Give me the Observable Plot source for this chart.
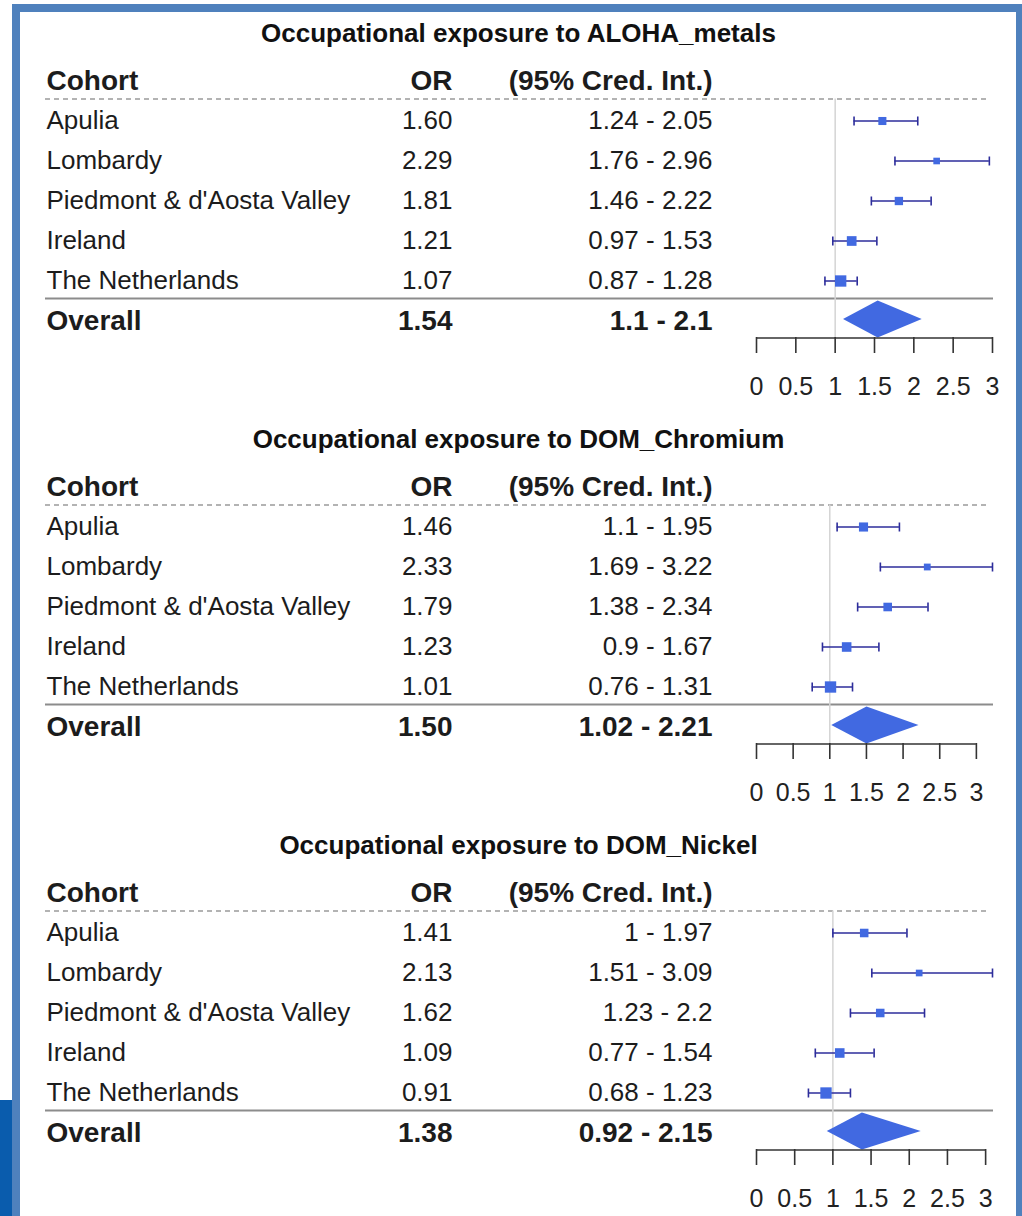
<!DOCTYPE html>
<html><head><meta charset="utf-8">
<script src="https://cdn.jsdelivr.net/npm/d3@7"></script>
<script src="https://cdn.jsdelivr.net/npm/@observablehq/plot@0.6"></script>
<style>
html,body{margin:0;padding:0;background:#fff;width:1022px;height:1216px;overflow:hidden;font-family:"Liberation Sans",Arial,sans-serif}
.panel{position:absolute;left:0;width:1022px;height:406px}
.bd{position:absolute;background:#4f81bd;z-index:5}
</style></head><body>
<div id="panels"></div>
<div class="bd" style="left:12px;top:4px;width:1010px;height:8px"></div>
<div class="bd" style="left:12px;top:4px;width:8px;height:1212px"></div>
<div class="bd" style="left:1016px;top:4px;width:6px;height:1212px"></div>
<div style="position:absolute;left:0;top:1100px;width:12px;height:116px;background:#0a5cad;z-index:5"></div>
<script>
// ---- data ----
const cohorts = ["Apulia", "Lombardy", "Piedmont & d'Aosta Valley", "Ireland", "The Netherlands"];
const titles = ["Occupational exposure to ALOHA_metals", "Occupational exposure to DOM_Chromium", "Occupational exposure to DOM_Nickel"];
const headerLabels = ["Cohort", "OR", "(95% Cred. Int.)"];
const overallLabel = "Overall";
const tickValues = [0, 0.5, 1, 1.5, 2, 2.5, 3];

const orMetals = [1.60, 2.29, 1.81, 1.21, 1.07];
const loMetals = [1.24, 1.76, 1.46, 0.97, 0.87];
const hiMetals = [2.05, 2.96, 2.22, 1.53, 1.28];
const overallMetals = [1.54, 1.1, 2.1];

const orChromium = [1.46, 2.33, 1.79, 1.23, 1.01];
const loChromium = [1.1, 1.69, 1.38, 0.9, 0.76];
const hiChromium = [1.95, 3.22, 2.34, 1.67, 1.31];
const overallChromium = [1.50, 1.02, 2.21];

const orNickel = [1.41, 2.13, 1.62, 1.09, 0.91];
const loNickel = [1, 1.51, 1.23, 0.77, 0.68];
const hiNickel = [1.97, 3.09, 2.2, 1.54, 1.23];
const overallNickel = [1.38, 0.92, 2.15];

const panelsData = [
  [titles[0], orMetals, loMetals, hiMetals, overallMetals],
  [titles[1], orChromium, loChromium, hiChromium, overallChromium],
  [titles[2], orNickel, loNickel, hiNickel, overallNickel]
];

// ---- drawing ----
const vbar = {draw(ctx, size) { const h = Math.sqrt(size / Math.PI); ctx.moveTo(0, -h); ctx.lineTo(0, h); }};
const barColor = "#2d2d9b";
const boxColor = "royalblue";
const textColor = "#1c1c1c";

function panel(title, or, lo, hi, ov) {
  const rows = cohorts.map((c, k) => ({cohort: c, i: k + 1, or: or[k], lo: lo[k], hi: hi[k], w: 1 / (hi[k] - lo[k])}));
  const ovRow = {i: rows.length + 1, or: ov[0], lo: ov[1], hi: ov[2]};
  const header = [{i: 0}];
  const xmax = Math.max(d3.max(tickValues), d3.max(hi));
  const diamond = [
    {x: ovRow.lo, y: ovRow.i - 0.05},
    {x: ovRow.or, y: ovRow.i - 0.51},
    {x: ovRow.hi, y: ovRow.i - 0.05},
    {x: ovRow.or, y: ovRow.i + 0.41}
  ];
  const col = (data, text, dx, anchor, bold) => Plot.text(data, {
    y: "i", text, frameAnchor: "left", dx, textAnchor: anchor, lineAnchor: "middle",
    fontSize: bold ? 28 : 26, fontWeight: bold ? "bold" : "normal", fill: textColor
  });
  return Plot.plot({
    width: 1022, height: 406,
    marginLeft: 0, marginRight: 0, marginTop: 0, marginBottom: 69,
    style: {background: "transparent", fontFamily: "'Liberation Sans', Arial, sans-serif", overflow: "visible"},
    x: {domain: [0, xmax], range: [756, 992]},
    y: {domain: [0, ovRow.i], range: [80.5, 320.5], axis: null},
    r: {range: [0, 6.4]},
    marks: [
      Plot.text([title], {text: d => d, frameAnchor: "top", dx: 7, dy: 33, lineAnchor: "middle", fontSize: 26, fontWeight: "bold", fill: "#111"}),
      col(header, () => headerLabels[0], 46, "start", true),
      col(header, () => headerLabels[1], 452, "end", true),
      col(header, () => headerLabels[2], 712, "end", true),
      col(rows, "cohort", 46, "start", false),
      col(rows, d => d.or.toFixed(2), 452, "end", false),
      col(rows, d => `${d.lo} - ${d.hi}`, 712, "end", false),
      col([ovRow], () => overallLabel, 46, "start", true),
      col([ovRow], d => d.or.toFixed(2), 452, "end", true),
      col([ovRow], d => `${d.lo} - ${d.hi}`, 712, "end", true),
      Plot.ruleY(header, {y: "i", dy: 18, insetLeft: 45, insetRight: 34, stroke: "#9a9a9a", strokeWidth: 1.4, strokeDasharray: "5,4"}),
      Plot.ruleY([ovRow], {y: "i", dy: -22.5, insetLeft: 45, insetRight: 29, stroke: "#8c8c8c", strokeWidth: 2}),
      Plot.ruleX([1], {x: d => d, y1: () => 0, y2: () => ovRow.i, insetTop: 18, insetBottom: -17, stroke: "#d4d4d4", strokeWidth: 1.5}),
      Plot.ruleY(rows, {y: "i", x1: "lo", x2: "hi", stroke: barColor, strokeWidth: 1.3}),
      Plot.dot(rows, {x: "lo", y: "i", symbol: vbar, r: 4.5, fill: "none", stroke: barColor, strokeWidth: 1.6}),
      Plot.dot(rows, {x: "hi", y: "i", symbol: vbar, r: 4.5, fill: "none", stroke: barColor, strokeWidth: 1.6}),
      Plot.dot(rows, {x: "or", y: "i", r: "w", symbol: "square", fill: boxColor, stroke: "none"}),
      Plot.line(diamond, {x: "x", y: "y", fill: boxColor, stroke: "none"}),
      Plot.ruleY([ovRow], {y: "i", dy: 17, x1: () => tickValues[0], x2: () => tickValues[tickValues.length - 1], stroke: "#333", strokeWidth: 1.6}),
      Plot.axisX(tickValues, {tickSize: 16, tickPadding: 24, tickFormat: d => `${d}`, fontSize: 25, strokeWidth: 1.6, stroke: "#333", fill: "#222", label: null})
    ]
  });
}

const container = document.getElementById("panels");
panelsData.forEach(([t, o, l, h, ov], k) => {
  const div = document.createElement("div");
  div.className = "panel";
  div.style.top = (k * 406) + "px";
  div.appendChild(panel(t, o, l, h, ov));
  container.appendChild(div);
});
</script>
</body></html>
